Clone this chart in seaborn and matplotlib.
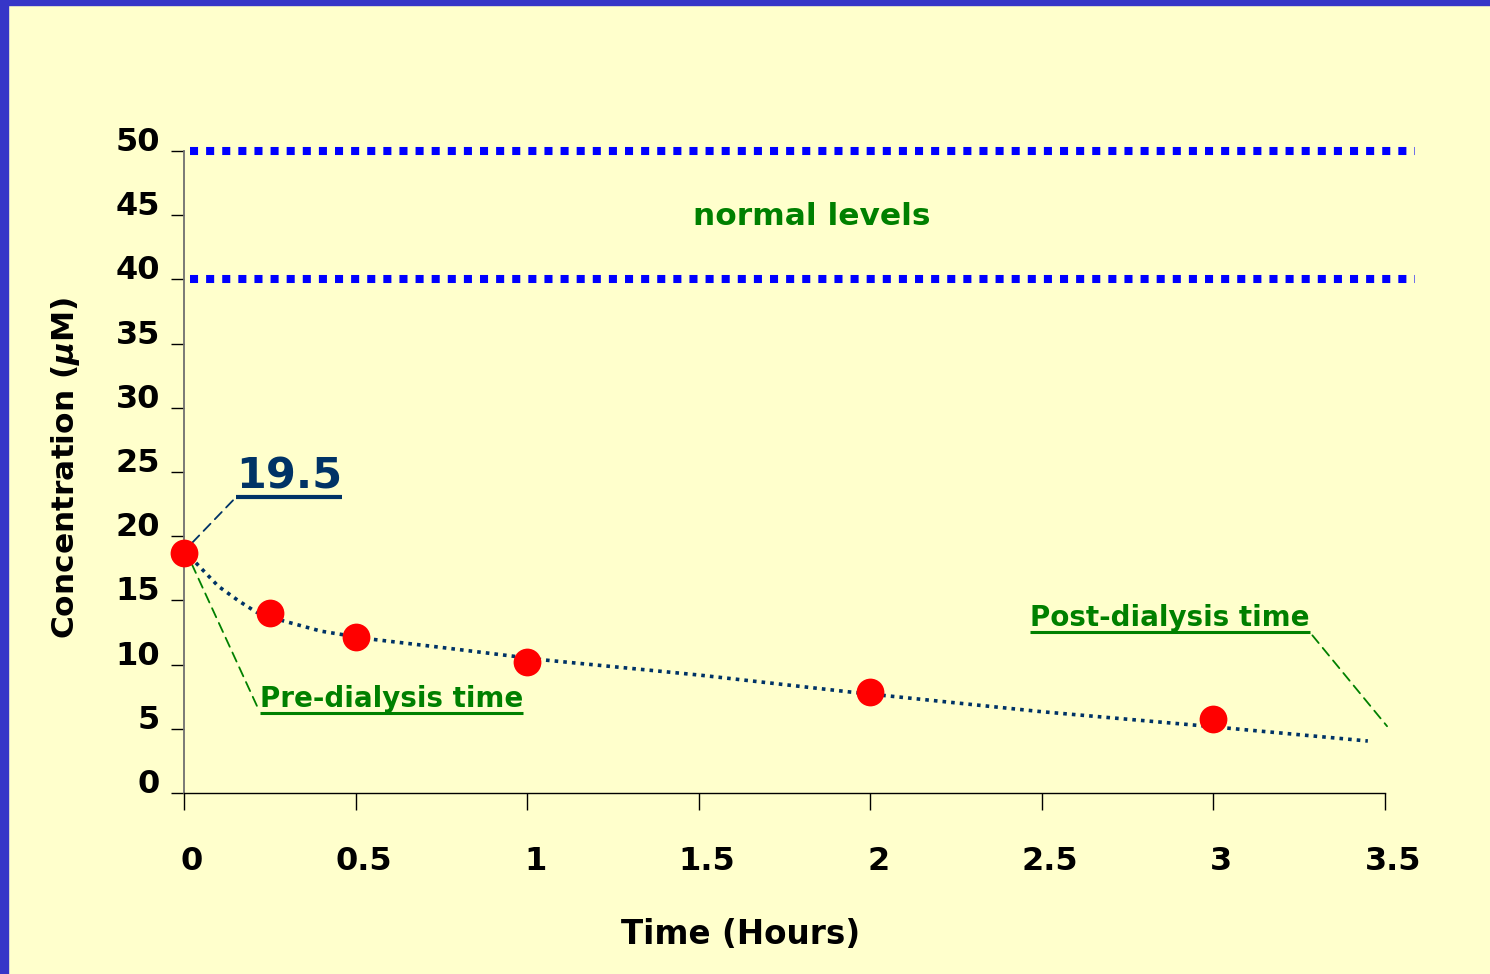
import seaborn as sns
import matplotlib.pyplot as plt
import matplotlib.text as mtext
import matplotlib.transforms as mtransforms
from matplotlib.lines import Line2D
from matplotlib.patches import Rectangle

# measured concentrations
time_h = [0, 0.25, 0.5, 1, 2, 3]
conc_um = [18.7, 14.0, 12.15, 10.2, 7.9, 5.75]

# trend line
trend_time = [0, 0.05, 0.1, 0.16, 0.21, 0.29, 0.4, 0.54, 0.74, 0.93, 1.05, 1.5, 1.94, 2.5, 2.94, 3.45]
trend_conc = [18.9, 17.5, 16.1, 14.95, 14.1, 13.4, 12.6, 12.0, 11.37, 10.75, 10.36, 9.19, 7.87, 6.33, 5.3, 4.05]

# normal range bounds
normal_levels = [40, 50]

x_ticks = [0, 0.5, 1, 1.5, 2, 2.5, 3, 3.5]
x_tick_labels = ["0", "0.5", "1", "1.5", "2", "2.5", "3", "3.5"]
y_ticks = [0, 5, 10, 15, 20, 25, 30, 35, 40, 45, 50]

BG = "#FFFFCC"
NAVY = "#003366"
GREEN = "#008000"

sns.set_theme(style="ticks")
plt.rcParams["font.family"] = ["DejaVu Sans"]
plt.rcParams["font.weight"] = "bold"
plt.rcParams["mathtext.fontset"] = "dejavusans"

fig = plt.figure(figsize=(14.9, 9.74), dpi=100, facecolor=BG)
ax = fig.add_axes([184 / 1490, 1 - 793 / 974, 1201 / 1490, 642 / 974])
ax.set_facecolor(BG)

# normal range lines (square dots, run a little past the axis end)
for lvl in normal_levels:
    ax.axhline(lvl, xmin=0.005, xmax=1.025, color="#0000FF", lw=5.8,
               linestyle=(0, (1, 1)), dash_capstyle="butt", clip_on=False, zorder=2)

sns.lineplot(x=trend_time, y=trend_conc, ax=ax, color=NAVY, lw=2.6,
             linestyle=(0, (1, 1.4)), sort=False, zorder=3)
sns.scatterplot(x=time_h, y=conc_um, ax=ax, color="#FF0000", s=400,
                linewidth=0, zorder=5, clip_on=False)

ax.set_xlim(0, 3.5)
ax.set_ylim(0, 50)
ax.set_xticks(x_ticks)
ax.set_xticklabels(x_tick_labels)
ax.set_yticks(y_ticks)

for s in ["top", "right"]:
    ax.spines[s].set_visible(False)
ax.spines["left"].set_color("#707070")
ax.spines["left"].set_linewidth(1.3)
ax.spines["bottom"].set_color("black")
ax.spines["bottom"].set_linewidth(1.0)

ax.tick_params(axis="y", length=9.4, width=1, pad=8, labelsize=23, colors="black")
ax.tick_params(axis="x", length=12, width=1, pad=26, labelsize=23, colors="black")

# nudge tick labels like the original
up = mtransforms.ScaledTranslation(0, 12 / 100, fig.dpi_scale_trans)
right = mtransforms.ScaledTranslation(8 / 100, 0, fig.dpi_scale_trans)
for lab in ax.get_yticklabels():
    lab.set_transform(lab.get_transform() + up)
for lab in ax.get_xticklabels():
    lab.set_transform(lab.get_transform() + right)

ax.set_xlabel("Time (Hours)", fontsize=23.5, fontweight="bold", color="black")
ax.xaxis.set_label_coords(0.463, -0.195)
ax.set_ylabel(r"Concentration ($\mu$M)", fontsize=22.5, fontweight="bold", color="black")
ax.yaxis.set_label_coords(-0.085, 0.506)

ax.text(1.828, 44.9, "normal levels", color=GREEN, fontsize=22.5,
        fontweight="bold", ha="center", va="center")

dash = (0, (5.5, 3.5))
t_val = ax.annotate("19.5", xy=(0.017, 19.3), xytext=(0.152, 23.75),
                    ha="left", va="baseline", fontsize=31, fontweight="bold", color=NAVY,
                    arrowprops=dict(arrowstyle="-", color=NAVY, lw=1.3, linestyle=dash,
                                    shrinkA=0, shrinkB=0, relpos=(0, 0)))
t_pre = ax.annotate("Pre-dialysis time", xy=(0.006, 18.8), xytext=(0.222, 6.7),
                    ha="left", va="baseline", fontsize=20, fontweight="bold", color=GREEN,
                    arrowprops=dict(arrowstyle="-", color=GREEN, lw=1.3, linestyle=dash,
                                    shrinkA=0, shrinkB=0, relpos=(0, 0)))
t_post = ax.annotate("Post-dialysis time", xy=(3.506, 5.2), xytext=(2.466, 13.0),
                     ha="left", va="baseline", fontsize=20, fontweight="bold", color=GREEN,
                     arrowprops=dict(arrowstyle="-", color=GREEN, lw=1.3, linestyle=dash,
                                     shrinkA=0, shrinkB=0, relpos=(1, 0)),
                     annotation_clip=False)


def underline(txt, color, lw):
    fig.canvas.draw()
    bb = mtext.Text.get_window_extent(txt, fig.canvas.get_renderer())
    bb = bb.transformed(fig.transFigure.inverted())
    fig.add_artist(Line2D([bb.x0, bb.x1], [bb.y0, bb.y0], transform=fig.transFigure,
                          color=color, lw=lw, solid_capstyle="butt"))


underline(t_val, NAVY, 3.0)
underline(t_pre, GREEN, 2.2)
underline(t_post, GREEN, 2.2)

# slide frame
fig.add_artist(Rectangle((0, 0), 8 / 1490, 1, transform=fig.transFigure,
                         color="#3636C8", zorder=10))
fig.add_artist(Rectangle((0, 1 - 5 / 974), 1, 5 / 974, transform=fig.transFigure,
                         color="#3636C8", zorder=10))

fig.savefig("out.png", dpi=100, facecolor=BG)
